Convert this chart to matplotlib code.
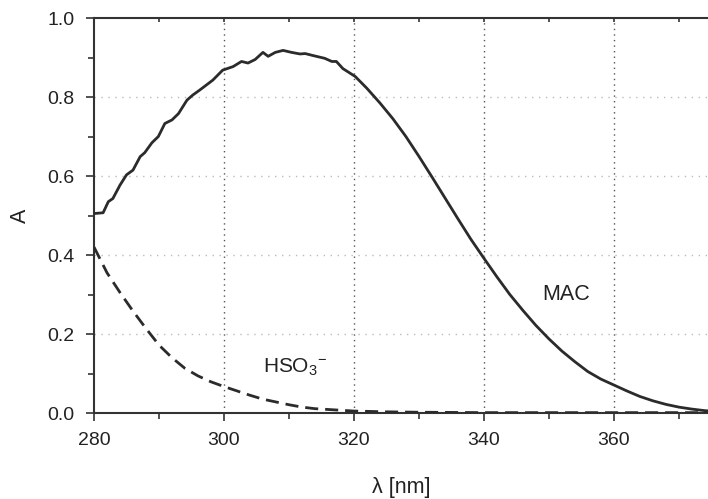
import numpy as np
import matplotlib
matplotlib.use("Agg")
import matplotlib.pyplot as plt
from matplotlib.ticker import MultipleLocator, NullLocator

plt.rcParams['font.family'] = ['Liberation Sans', 'DejaVu Sans']
plt.rcParams['mathtext.fontset'] = 'custom'
plt.rcParams['mathtext.rm'] = 'Liberation Sans'
plt.rcParams['mathtext.it'] = 'Liberation Sans'

# MAC absorption spectrum
mac_wl = [280.0, 280.7, 281.4, 282.2, 282.9, 284.0, 285.0, 286.0, 287.1, 287.8,
          288.9, 289.9, 290.9, 292.0, 293.0, 294.3, 295.2, 296.3, 298.3, 299.8,
          301.4, 302.7, 303.7, 304.8, 306.0, 306.8, 307.9, 309.1, 310.4, 311.7,
          312.5, 313.7, 315.5, 316.6, 317.3, 318.3, 320.2, 322.0, 324.0, 326.0,
          328.0, 330.0, 332.0, 334.0, 336.0, 338.0, 340.0, 342.0, 344.0, 346.0,
          348.0, 350.0, 352.0, 354.0, 356.0, 358.0, 360.0, 362.0, 364.0, 366.0,
          368.0, 370.0, 372.0, 374.0, 375.0]
mac_a = [0.505, 0.506, 0.507, 0.535, 0.543, 0.577, 0.603, 0.615, 0.649, 0.659,
         0.684, 0.700, 0.733, 0.742, 0.758, 0.792, 0.805, 0.818, 0.843, 0.868,
         0.877, 0.890, 0.886, 0.895, 0.913, 0.903, 0.913, 0.918, 0.913, 0.909,
         0.910, 0.905, 0.898, 0.890, 0.890, 0.872, 0.852, 0.822, 0.785, 0.745,
         0.700, 0.650, 0.598, 0.545, 0.492, 0.440, 0.392, 0.345, 0.300, 0.260,
         0.222, 0.188, 0.157, 0.130, 0.105, 0.086, 0.071, 0.056, 0.042, 0.031,
         0.022, 0.015, 0.010, 0.006, 0.005]

# bisulfite spectrum
hso3_wl = [280, 282, 284, 286, 288, 290, 292, 294, 296, 298, 300, 302, 304, 306,
           308, 310, 312, 314, 316, 318, 320, 325, 330, 340, 350, 360, 375]
hso3_a = [0.420, 0.355, 0.305, 0.258, 0.214, 0.172, 0.140, 0.113, 0.094, 0.079,
          0.067, 0.056, 0.045, 0.035, 0.028, 0.021, 0.015, 0.011, 0.009, 0.007,
          0.005, 0.003, 0.002, 0.001, 0.001, 0.001, 0.001]

line_col = '#2b2b2b'
spine_col = '#333333'
text_col = '#222222'

fig = plt.figure(figsize=(7.08, 4.99), dpi=100)
ax = fig.add_axes([0.1328, 0.1723, 0.8672, 0.7916])

ax.plot(mac_wl, mac_a, color=line_col, lw=2.0, zorder=3)
ax.plot(hso3_wl, hso3_a, color=line_col, lw=2.0, dashes=(4.7, 2.5), zorder=3)

ax.set_xlim(280, 374.5)
ax.set_ylim(0, 1.0)
ax.xaxis.set_major_locator(MultipleLocator(20))
ax.xaxis.set_minor_locator(MultipleLocator(10))
ax.yaxis.set_major_locator(MultipleLocator(0.2))
ax.yaxis.set_minor_locator(MultipleLocator(0.1))
ax.yaxis.set_major_formatter(plt.FormatStrFormatter('%.1f'))

# dotted grid: darker vertical, lighter horizontal
for xv in [300, 320, 340, 360]:
    ax.axvline(xv, color='#555555', lw=1.0, ls=(0, (1, 3)), zorder=1)
for yv in [0.2, 0.4, 0.6, 0.8]:
    ax.axhline(yv, color='#bbbbbb', lw=1.0, ls=(0, (1, 4)), zorder=1)

for s in ['left', 'bottom', 'top']:
    ax.spines[s].set_color(spine_col)
    ax.spines[s].set_linewidth(1.5)
ax.spines['right'].set_visible(False)

ax.tick_params(axis='both', which='major', direction='out', length=6, width=1.2,
               color=spine_col, labelsize=14, labelcolor=text_col, pad=8)
ax.tick_params(axis='both', which='minor', direction='out', length=4, width=1.2,
               color=spine_col)

# small inward minor ticks on the top spine
top = ax.secondary_xaxis('top')
top.xaxis.set_major_locator(NullLocator())
top.xaxis.set_minor_locator(MultipleLocator(10))
top.tick_params(which='minor', direction='in', length=3, width=1.2, color=spine_col)
top.spines['top'].set_visible(False)

ax.set_xlabel('λ [nm]', fontsize=15.5, color=text_col, labelpad=20)
ax.set_ylabel('A', fontsize=15.5, color=text_col, labelpad=12)

ax.text(352.6, 0.30, 'MAC', fontsize=15.5, color=text_col, ha='center', va='center')
ax.text(311, 0.115, 'HSO$_3$$^{-}$', fontsize=15, color=text_col, ha='center', va='center')

fig.savefig('out.png', dpi=100, facecolor='white')
